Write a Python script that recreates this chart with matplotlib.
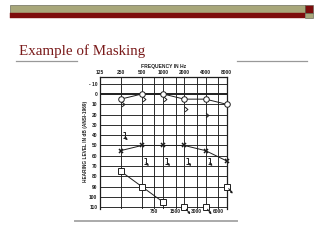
import matplotlib
matplotlib.use('Agg')
import matplotlib.pyplot as plt
import matplotlib.transforms as mtransforms
from matplotlib.patches import Rectangle
from matplotlib.lines import Line2D
from matplotlib.path import Path

# audiogram data (Hz / dB HL)
freqs = [250, 500, 1000, 2000, 4000, 8000]
circle_db = [5, 0, 0, 5, 5, 10]            # O, air unmasked
bone_freqs = [250, 500, 1000, 2000, 4000]
bone_db = [10, 5, 5, 15, 20]               # > bone
cross_db = [55, 50, 50, 50, 55, 65]        # X air
square_freqs = [250, 500, 1000]
square_db = [75, 90, 105]                  # masked air
square_nr_freqs = [2000, 4000, 8000]
square_nr_db = [110, 110, 90]              # masked air, no response
bracket_freqs = [250, 500, 1000, 2000, 4000]
bracket_db = [40, 65, 65, 65, 65]          # masked bone, no response

top_ticks = [125, 250, 500, 1000, 2000, 4000, 8000]
top_labels = ['125', '250', '500', '1000', '2000', '4000', '8000']
mid_ticks = [750, 1500, 3000, 6000]
mid_labels = ['750', '1500', '3000', '6000']
db_ticks = list(range(-10, 111, 10))

W, H = 320, 240
ink = '#1e1e1e'
fnt = 'Liberation Sans'

def fx(x):
    return x / W

def fy(y):
    return 1 - y / H

fig = plt.figure(figsize=(3.2, 2.4), dpi=100)
fig.patch.set_facecolor('white')

# slide header bands
fig.add_artist(Rectangle((fx(10), fy(12.7)), fx(295), 7.7 / H, facecolor='#a8a77a',
                         edgecolor='#555544', lw=0.4))
fig.add_artist(Rectangle((fx(10), fy(17.5)), fx(295), 4.8 / H, facecolor='#7d0c0c',
                         edgecolor='#7d0c0c', lw=0.3))
fig.add_artist(Rectangle((fx(305), fy(12.7)), fx(8), 7.7 / H, facecolor='#7d0c0c',
                         edgecolor='#555544', lw=0.4))
fig.add_artist(Rectangle((fx(305), fy(17.5)), fx(8), 4.8 / H, facecolor='#a8a77a',
                         edgecolor='#555544', lw=0.4))

# title and rules
fig.text(fx(19), fy(54.5), 'Example of Masking', family='Liberation Serif',
         fontsize=10.8, color='#7a1a1a', va='baseline', ha='left')
fig.add_artist(Line2D([fx(16), fx(77)], [fy(61), fy(61)], color='#999999', lw=0.9))
fig.add_artist(Line2D([fx(237), fx(307)], [fy(61), fy(61)], color='#999999', lw=0.9))
fig.add_artist(Line2D([fx(75), fx(237)], [fy(220.5), fy(220.5)], color='#aaaaaa', lw=1.4))

# audiogram
ax = fig.add_axes([fx(99.5), fy(209), 127.2 / W, 132 / H])
ax.set_xscale('log', base=2)
ax.set_xlim(125, 8000)
ax.set_ylim(111.7, -16.5)
ax.xaxis.set_minor_locator(matplotlib.ticker.NullLocator())

for d in db_ticks:
    ax.axhline(d, color=ink, lw=1.4 if d == 0 else 0.65, zorder=1)
for f in top_ticks[1:-1] + mid_ticks:
    ax.axvline(f, color=ink, lw=0.65, zorder=1)

ax.xaxis.tick_top()
ax.set_xticks(top_ticks)
ax.set_xticklabels(top_labels)
ax.set_yticks(db_ticks)
ax.set_yticklabels(['- 10'] + [str(d) for d in db_ticks[1:]])
ax.tick_params(length=0, pad=1.6, labelsize=3.5, colors=ink)
for lab in ax.get_xticklabels() + ax.get_yticklabels():
    lab.set_family(fnt)
    lab.set_fontweight('bold')
for s in ['top', 'left', 'right']:
    ax.spines[s].set_linewidth(0.9)
    ax.spines[s].set_color(ink)
ax.spines['bottom'].set_visible(False)

for f, lab in zip(mid_ticks, mid_labels):
    ax.text(f, 113.8, lab, ha='center', va='center', fontsize=3.5, family=fnt,
            fontweight='bold', color=ink, clip_on=False)

ax.set_title('FREQUENCY IN Hz', fontsize=3.6, family=fnt, fontweight='bold',
             color=ink, pad=6.3, x=0.5)
fig.text(fx(85), fy(141), 'HEARING LEVEL IN dB (ANSI-1969)', rotation=90,
         ha='center', va='center', fontsize=3.4, family=fnt, fontweight='bold', color=ink)

def shifted(dx_px, dy_px=0):
    return mtransforms.offset_copy(ax.transData, fig=fig, x=dx_px * 0.72,
                                   y=dy_px * 0.72, units='points')

chevron = Path([(-0.6, 1), (0.6, 0), (-0.6, -1)],
               [Path.MOVETO, Path.LINETO, Path.LINETO])
bracket = Path([(-0.5, 1), (0.3, 1), (0.3, -1), (-0.5, -1)],
               [Path.MOVETO, Path.LINETO, Path.LINETO, Path.LINETO])

ax.plot(freqs, circle_db, color=ink, lw=0.7, marker='o', ms=4.0, mfc='white',
        mec=ink, mew=0.7, zorder=3, clip_on=False)
ax.plot(bone_freqs, bone_db, ls='none', marker=chevron, ms=3.4, mfc='none',
        mec=ink, mew=0.7, transform=shifted(1.8), zorder=3)
ax.plot(freqs, cross_db, color=ink, lw=0.7, marker='x', ms=2.6, mec=ink,
        mew=1.1, zorder=3, clip_on=False)
ax.plot(square_freqs, square_db, color=ink, lw=0.7, marker='s', ms=3.8,
        mfc='white', mec=ink, mew=0.7, zorder=3, clip_on=False)
ax.plot(square_nr_freqs, square_nr_db, ls='none', marker='s', ms=3.8,
        mfc='white', mec=ink, mew=0.7, zorder=3, clip_on=False)
ax.plot(bracket_freqs, bracket_db, ls='none', marker=bracket, ms=3.8,
        mfc='none', mec=ink, mew=0.7, transform=shifted(3), zorder=3)

def nr_arrow(f, v, x0, y0, x1, y1):
    ax.annotate('', xy=(f, v), xycoords=shifted(x1, y1),
                xytext=((x0 - x1) * 0.72, (y0 - y1) * 0.72), textcoords='offset points',
                arrowprops=dict(arrowstyle='-|>', lw=0.7, color=ink,
                                mutation_scale=2.8, shrinkA=0, shrinkB=0),
                annotation_clip=False, zorder=4)

for f, v in zip(bracket_freqs, bracket_db):
    nr_arrow(f, v, 4, -2, 7, -5)
for f, v in zip(square_nr_freqs, square_nr_db):
    nr_arrow(f, v, 2, -2, 6, -7)

fig.savefig('out.png', dpi=100, facecolor='white')
